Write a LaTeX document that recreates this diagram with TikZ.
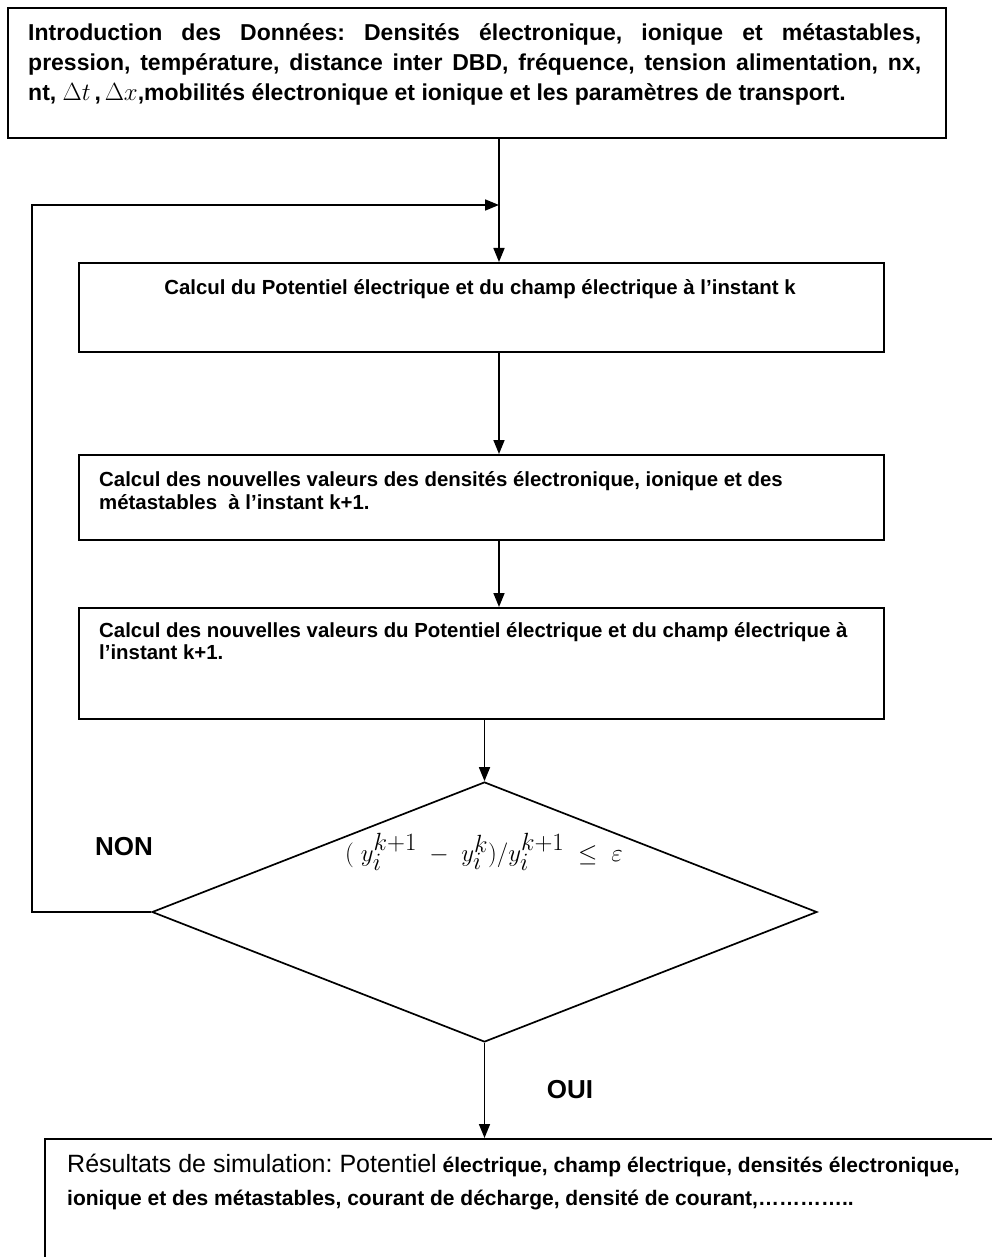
\documentclass[tikz,border=0pt]{standalone}
\usepackage{fontspec}
\setmainfont{Liberation Sans}
\frenchspacing
\usetikzlibrary{shapes.geometric,arrows.meta}
\begin{document}
\begin{tikzpicture}[x=1pt,y=-1pt,
  box/.style={draw,line width=1.7pt,rectangle,inner sep=0pt,anchor=north west},
  arr/.style={line width=1.7pt,-{Triangle[length=14pt,width=11pt]}},
  txt/.style={inner sep=0pt,anchor=north west,align=left},
  lbl/.style={inner sep=0pt,font=\fontsize{26}{30}\selectfont\bfseries},
]
\useasboundingbox (0,0) rectangle (992,1257);
\clip (0,0) rectangle (992,1257);
% boxes
\node[box,minimum width=938,minimum height=130] (b1) at (7,7) {};
\node[box,minimum width=805,minimum height=89] (b2) at (78,262) {};
\node[box,minimum width=805,minimum height=85] (b3) at (78,454) {};
\node[box,minimum width=805,minimum height=111] (b4) at (78,607) {};
\node[draw,line width=1.7pt,diamond,inner sep=0pt,minimum width=665,minimum height=260] (d) at (484.5,912) {};
\node[box,minimum width=1000,minimum height=200] (res) at (44,1138) {};
% coordinates
\coordinate (j) at (499,205);
\coordinate (fb) at (32,912);
% texts
\node[txt,text width=893,align=justify,font=\fontsize{23}{30}\selectfont\bfseries] (t1) at (28,23)
 {Introduction des Données: Densités électronique, ionique et métastables,\linebreak
  pression, température, distance inter DBD, fréquence, tension alimentation, nx,\linebreak
  nt, $\Delta t$\,,\,$\Delta x$,mobilités électronique et ionique et les paramètres de transport.};
\node[inner sep=0pt,anchor=base,font=\fontsize{20.4}{24}\selectfont\bfseries] (t2) at (480,294)
 {Calcul du Potentiel électrique et du champ électrique à l’instant k};
\node[txt,font=\fontsize{20.4}{23.5}\selectfont\bfseries] (t3) at (99,471)
 {Calcul des nouvelles valeurs des densités électronique, ionique et des\\
  métastables \ à l’instant k+1.};
\node[txt,font=\fontsize{20.4}{22}\selectfont\bfseries] (t4) at (99,622)
 {Calcul des nouvelles valeurs du Potentiel électrique et du champ électrique à\\
  l’instant k+1.};
\node[inner sep=0pt,font=\fontsize{35}{40}\selectfont] (f) at (484,852)
 {$(\;y_i^{k+1}\;-\;y_i^{k})/y_i^{k+1}\;\leq\;\varepsilon$};
\node[lbl] (non) at (124,847) {NON};
\node[lbl] (oui) at (570,1090) {OUI};
\node[txt,font=\fontsize{21}{33}\selectfont\bfseries] (t5) at (67,1154)
 {{\fontsize{25}{33}\selectfont\mdseries Résultats de simulation: Potentiel} électrique, champ électrique, densités électronique,\\
  ionique et des métastables, courant de décharge, densité de courant,…………..};
% connectors
\draw[arr] (b1.south -| j) -- (b2.north -| j);
\draw[arr] (d.west) -- (fb) |- (j);
\draw[arr] (b2.south -| j) -- (b3.north -| j);
\draw[arr] (b3.south -| j) -- (b4.north -| j);
\draw[arr] (b4.south -| d.north) -- (d.north);
\draw[arr] (d.south) -- (res.north -| d.south);
\end{tikzpicture}
\end{document}
